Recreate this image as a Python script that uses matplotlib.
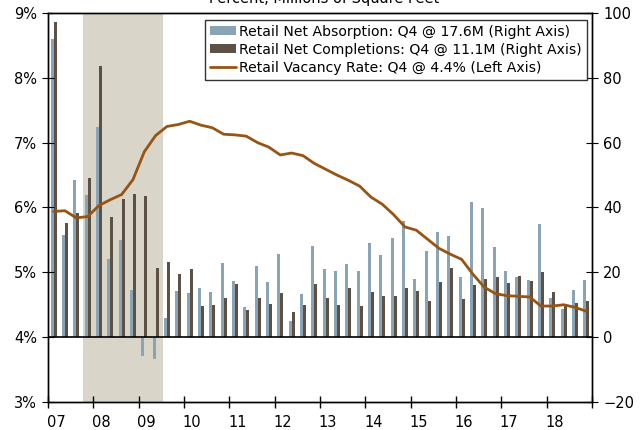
import matplotlib.pyplot as plt
import numpy as np

# quarters 2007Q1 .. 2018Q4
years = ["07", "08", "09", "10", "11", "12", "13", "14", "15", "16", "17", "18"]

absorption = [91.9, 31.4, 48.5, 44.0, 64.7, 24.0, 29.9, 14.7, -5.7, -6.7,
              5.8, 14.1, 13.5, 15.3, 13.9, 22.9, 17.2, 9.2, 21.9, 17.0,
              25.6, 5.0, 13.3, 28.1, 20.9, 20.5, 22.5, 20.3, 29.1, 25.4,
              30.6, 35.7, 17.9, 26.6, 32.4, 31.2, 18.7, 41.7, 39.8, 27.7,
              20.4, 18.5, 17.6, 34.9, 12.0, 8.8, 14.5, 17.6]

completions = [97.2, 35.3, 38.4, 49.1, 83.8, 37.1, 42.7, 44.3, 43.5, 21.3,
               23.1, 19.6, 20.9, 9.6, 9.8, 12.0, 16.4, 8.5, 12.2, 10.2,
               13.5, 7.9, 10.0, 16.4, 12.0, 9.8, 15.3, 9.6, 13.9, 12.7,
               12.8, 15.3, 14.2, 11.3, 16.9, 21.3, 11.7, 16.0, 17.8, 18.7,
               16.6, 19.0, 17.2, 20.1, 13.9, 10.2, 10.5, 11.1]

vacancy = [5.94, 5.95, 5.84, 5.86, 6.03, 6.12, 6.20, 6.43, 6.86, 7.11,
           7.25, 7.28, 7.33, 7.27, 7.23, 7.13, 7.12, 7.10, 7.00, 6.93,
           6.81, 6.84, 6.80, 6.68, 6.59, 6.50, 6.42, 6.33, 6.16, 6.05,
           5.89, 5.70, 5.65, 5.51, 5.37, 5.28, 5.20, 4.97, 4.77, 4.67,
           4.64, 4.63, 4.62, 4.48, 4.48, 4.50, 4.46, 4.40]

# recession shading: 2007Q4 - 2009Q2
rec_start, rec_end = 3, 9

blue = "#8aa4b5"
brown = "#5d5045"
orange = "#985412"
shade = "#d9d5c8"

plt.rcParams['font.family'] = 'DejaVu Sans'

x = np.arange(len(vacancy))

fig = plt.figure(figsize=(6.44, 4.30), dpi=100)
ax = fig.add_axes([0.0745, 0.0651, 0.8447, 0.9047])
ax2 = ax.twinx()

ax2.axvspan(rec_start - 0.4, rec_end + 0.65, color=shade, lw=0, zorder=0)
ax2.bar(x - 0.14, absorption, width=0.26, color=blue, zorder=2,
        label="Retail Net Absorption: Q4 @ 17.6M (Right Axis)")
ax2.bar(x + 0.14, completions, width=0.26, color=brown, zorder=2,
        label="Retail Net Completions: Q4 @ 11.1M (Right Axis)")
ax2.axhline(0, color="black", lw=1.2, zorder=3)

ax.plot(x, vacancy, color=orange, lw=2.0, solid_capstyle="round",
        label="Retail Vacancy Rate: Q4 @ 4.4% (Left Axis)")

ax.set_zorder(ax2.get_zorder() + 1)
ax.patch.set_visible(False)

ax.set_xlim(-0.5, len(vacancy) - 0.5)
ax.set_ylim(3, 9)
ax2.set_ylim(-20, 100)
ax.set_yticks(range(3, 10))
ax.set_yticklabels([f"{v}%" for v in range(3, 10)])
ax2.set_yticks(range(-20, 101, 20))

ax.set_xticks([4 * k + 0.2 for k in range(len(years))])
ax.set_xticklabels(years)
ax.set_xticks([4 * k - 0.5 for k in range(len(years) + 1)], minor=True)
ax.tick_params(axis="x", which="major", length=0, pad=9, labelsize=10.5)
ax.tick_params(axis="x", which="minor", direction="inout", length=8, width=1)
ax.tick_params(axis="y", direction="inout", length=8, labelsize=10.5, pad=4)
ax2.tick_params(axis="y", direction="inout", length=8, labelsize=10.5, pad=4)

for a in (ax, ax2):
    for s in a.spines.values():
        s.set_linewidth(1)

h1, l1 = ax2.get_legend_handles_labels()
h2, l2 = ax.get_legend_handles_labels()
leg = ax.legend(h1 + h2, l1 + l2, loc="upper right", bbox_to_anchor=(0.99, 0.982),
                fontsize=10.1, frameon=True, fancybox=False, framealpha=1,
                edgecolor="#333333", handlelength=1.9, handleheight=0.6,
                handletextpad=0.2, labelspacing=0.28, borderpad=0.35,
                borderaxespad=0)
leg.get_frame().set_linewidth(1)

fig.text(0.503, 0.992, "Percent, Millions of Square Feet", ha="center",
         va="baseline", fontsize=10.5)

fig.savefig("out.png", dpi=100)
